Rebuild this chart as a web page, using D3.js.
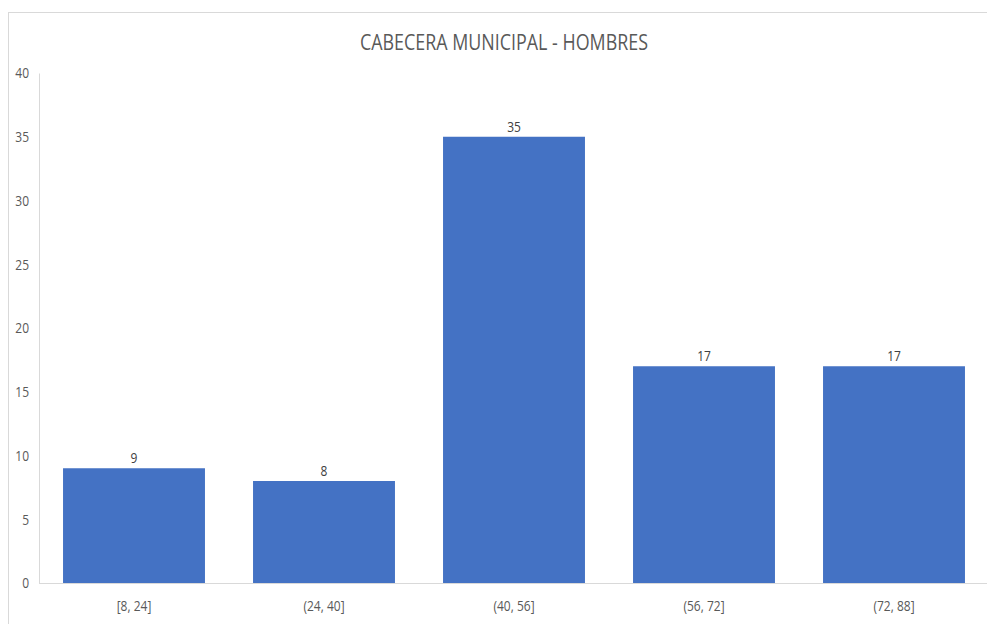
<!DOCTYPE html>
<html>
<head>
<meta charset="utf-8">
<script src="https://cdn.jsdelivr.net/npm/d3@7"></script>
<style>
  body { margin: 0; background: #fff; }
  text { font-family: "Open Sans", sans-serif; }
</style>
</head>
<body>
<div id="my_chart"></div>
<script>
// data
var categories = ["[8, 24]", "(24, 40]", "(40, 56]", "(56, 72]", "(72, 88]"];
var values = [9, 8, 35, 17, 17];
var yTicks = [0, 5, 10, 15, 20, 25, 30, 35, 40];
var title = "CABECERA MUNICIPAL - HOMBRES";

var W = 987, H = 624;
var margin = {top: 73, right: -2, bottom: 41, left: 39},
    width = W - margin.left - margin.right,
    height = H - margin.top - margin.bottom;

var root = d3.select("#my_chart")
  .append("svg")
    .attr("width", W)
    .attr("height", H);

// outer chart border
root.append("rect")
  .attr("x", 8.5).attr("y", 12.5)
  .attr("width", W + 20).attr("height", H + 20)
  .attr("fill", "none")
  .attr("stroke", "#d9d9d9");

var svg = root.append("g")
  .attr("transform", "translate(" + margin.left + "," + margin.top + ")");

var y = d3.scaleLinear()
  .domain([0, 40])
  .range([height, 0]);

var x = d3.scaleBand()
  .domain(categories)
  .range([0, width])
  .paddingInner(0.253)
  .paddingOuter(0.1265);

// Y axis
var yAxis = svg.append("g")
  .call(d3.axisLeft(y).tickValues(yTicks).tickSize(0).tickPadding(10));
yAxis.select(".domain").attr("stroke", "#d9d9d9");
yAxis.selectAll("text")
  .attr("fill", "#595959")
  .style("font-size", "15px");

// baseline
svg.append("line")
  .attr("x1", 0).attr("x2", width)
  .attr("y1", y(0) + 0.5).attr("y2", y(0) + 0.5)
  .attr("stroke", "#d9d9d9");

// X axis labels
var xAxis = svg.append("g")
  .attr("transform", "translate(0," + height + ")")
  .call(d3.axisBottom(x).tickSize(0).tickPadding(17));
xAxis.select(".domain").remove();
xAxis.selectAll("text")
  .attr("fill", "#595959")
  .style("font-size", "15px");

// Bars
svg.selectAll("rect.bar")
  .data(values)
  .enter()
  .append("rect")
    .attr("class", "bar")
    .attr("x", function(d, i) { return x(categories[i]); })
    .attr("y", function(d) { return y(d); })
    .attr("width", x.bandwidth())
    .attr("height", function(d) { return height - y(d); })
    .attr("fill", "#4472c4");

// value labels
svg.selectAll("text.val")
  .data(values)
  .enter()
  .append("text")
    .attr("class", "val")
    .attr("x", function(d, i) { return x(categories[i]) + x.bandwidth() / 2; })
    .attr("y", function(d) { return y(d) - 5; })
    .attr("text-anchor", "middle")
    .attr("fill", "#404040")
    .style("font-size", "15px")
    .text(function(d) { return d; });

// squeeze text horizontally to look like Calibri
root.selectAll("text").each(function() {
  var len = this.getComputedTextLength();
  d3.select(this)
    .attr("textLength", len * 0.8)
    .attr("lengthAdjust", "spacingAndGlyphs");
});

root.append("text")
  .attr("x", 504)
  .attr("y", 50)
  .attr("text-anchor", "middle")
  .attr("fill", "#595959")
  .attr("textLength", 288)
  .attr("lengthAdjust", "spacingAndGlyphs")
  .style("font-size", "22px")
  .text(title);
</script>
</body>
</html>
